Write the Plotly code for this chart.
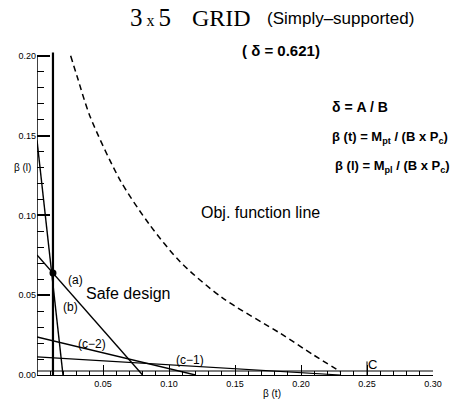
import plotly.graph_objects as go

# ---- data ----
line_a_x = [0.0, 0.080]
line_a_y = [0.0752, 0.0]
line_b_x = [0.0, 0.0197]
line_b_y = [0.147, 0.0]
vert_x = [0.0121, 0.0121]
vert_y = [0.0, 0.202]
c2_x = [0.0, 0.120]
c2_y = [0.0238, 0.0]
c1_x = [0.0, 0.230]
c1_y = [0.0113, 0.0]
obj_x = [0.0255, 0.0304, 0.0402, 0.063, 0.085, 0.1086, 0.1405, 0.1845, 0.2096, 0.230]
obj_y = [0.200, 0.187, 0.162, 0.122, 0.0945, 0.0708, 0.0483, 0.026, 0.0125, 0.002]
opt_pt_x = [0.0121]
opt_pt_y = [0.0639]

x_ticks = [0.05, 0.10, 0.15, 0.20, 0.25, 0.30]
x_tick_text = ["0.05", "0.10", "0.15", "0.20", "0.25", "0.30"]
y_ticks = [0.0, 0.05, 0.10, 0.15, 0.20]
y_tick_text = ["0.00", "0.05", "0.10", "0.15", "0.20"]
y_minor = [0.01, 0.02, 0.03, 0.04, 0.06, 0.07, 0.08, 0.09, 0.11, 0.12, 0.13, 0.14, 0.16, 0.17, 0.18, 0.19]

SANS = "Liberation Sans, Arial, sans-serif"
SERIF = "Liberation Serif, Times New Roman, serif"
BLK = "#000000"

fig = go.Figure()

def seg(x, y, w=1.4, dash="solid"):
    fig.add_trace(go.Scatter(x=x, y=y, mode="lines", line=dict(color=BLK, width=w, dash=dash),
                             hoverinfo="skip", showlegend=False, cliponaxis=False))

seg(line_a_x, line_a_y)
seg(line_b_x, line_b_y)
seg(vert_x, vert_y, w=2.2)
seg(c2_x, c2_y)
seg(c1_x, c1_y, w=1.2)
fig.add_trace(go.Scatter(x=obj_x, y=obj_y, mode="lines",
                         line=dict(color=BLK, width=1.5, dash="6px,4px", shape="spline", smoothing=0.8),
                         hoverinfo="skip", showlegend=False))
fig.add_trace(go.Scatter(x=opt_pt_x, y=opt_pt_y, mode="markers",
                         marker=dict(color=BLK, size=7, symbol="circle"), hoverinfo="skip", showlegend=False))

# y axis line (only up to 0.20) and ruler-like x axis second line
fig.add_shape(type="line", x0=0, x1=0, y0=0, y1=0.20, xref="x", yref="y", line=dict(color=BLK, width=1.5))
fig.add_shape(type="line", x0=0, x1=0.30, y0=0.0025, y1=0.0025, xref="x", yref="y", line=dict(color=BLK, width=1))
# C marker tick
fig.add_shape(type="line", x0=0.25, x1=0.25, y0=0.0, y1=0.0085, xref="x", yref="y", line=dict(color=BLK, width=1))

def note(text, x, y, size=12, bold=False, family=SANS, xanchor="center"):
    fig.add_annotation(text=f"<b>{text}</b>" if bold else text, x=x, y=y, xref="paper", yref="paper",
                       showarrow=False, xanchor=xanchor, yanchor="middle",
                       font=dict(family=family, size=size, color=BLK))

W, H = 458, 401
L, R, T, B = 37, 25, 43, 26
def px(xp):
    return (xp - L) / (W - L - R)
def py(yp):
    return (H - B - yp) / (H - T - B)

# titles
note("3<span style='font-size:16px'> x </span>5", px(150), py(18), size=25, family=SERIF)
note("GRID", px(221), py(18), size=24, family=SERIF)
note("(Simply\u2013supported)", px(340), py(19), size=17)
note("( \u03b4 = 0.621)", px(281), py(50), size=15, bold=True)

# formulas
note("\u03b4 = A / B", px(330), py(107), size=14, bold=True, xanchor="left")
note("\u03b2 (t) = M<sub>pt</sub> / (B x P<sub>c</sub>)", px(330), py(137), size=13, bold=True, xanchor="left")
note("\u03b2 (l) = M<sub>pl</sub> / (B x P<sub>c</sub>)", px(333), py(166), size=13, bold=True, xanchor="left")

# in-plot labels
note("Obj. function line", px(260), py(213), size=16)
note("Safe design", px(128), py(293), size=16)
note("(a)", px(75), py(280), size=12)
note("(b)", px(70), py(307), size=12)
note("(c\u22122)", px(92), py(344), size=12)
note("(c\u22121)", px(190), py(360), size=12)
note("C", px(372), py(364), size=13)

# axis titles
note("\u03b2 (l)", px(22), py(167), size=10)
note("\u03b2 (t)", px(272), py(393), size=10)

fig.update_xaxes(range=[0, 0.30], showgrid=False, zeroline=False, showline=True, linecolor=BLK, linewidth=1,
                 ticks="inside", ticklen=10, tickwidth=1, tickcolor=BLK,
                 tickvals=x_ticks, ticktext=x_tick_text,
                 minor=dict(ticks="inside", ticklen=4, tickwidth=1, tickcolor=BLK, dtick=0.01, showgrid=False),
                 tickfont=dict(family=SANS, size=9, color=BLK), fixedrange=True)
fig.update_yaxes(range=[0, 0.208], showgrid=False, zeroline=False, showline=False,
                 ticks="inside", ticklen=13, tickwidth=1.5, tickcolor=BLK,
                 tickvals=y_ticks, ticktext=y_tick_text,
                 minor=dict(ticks="inside", ticklen=7, tickwidth=1, tickcolor=BLK, tickvals=y_minor, showgrid=False),
                 tickfont=dict(family=SANS, size=9, color=BLK), fixedrange=True)

fig.update_layout(width=W, height=H, margin=dict(l=L, r=R, t=T, b=B),
                  paper_bgcolor="white", plot_bgcolor="white", showlegend=False)

fig.write_html("out.html")
